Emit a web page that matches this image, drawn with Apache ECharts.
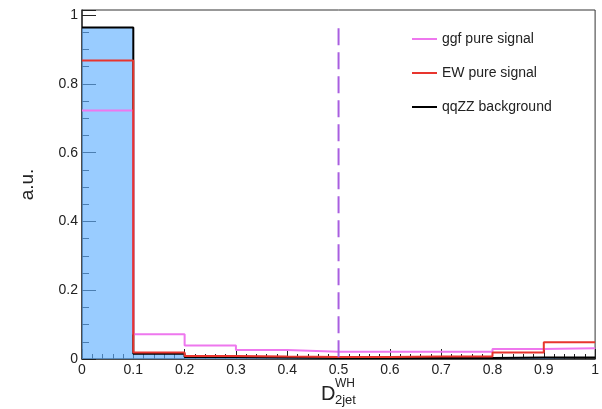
<!DOCTYPE html>
<html>
<head>
<meta charset="utf-8">
<title>D2jet WH discriminant</title>
<script src="https://cdn.jsdelivr.net/npm/echarts@6/dist/echarts.min.js"></script>
<style>
  html, body { margin: 0; padding: 0; background: #ffffff; }
  #chart { width: 602px; height: 409px; }
</style>
</head>
<body>
<div id="chart"></div>
<script>
// Bin edges of the D_2jet^WH distribution
const binEdges = [0, 0.1, 0.2, 0.3, 0.4, 0.5, 0.6, 0.7, 0.8, 0.9, 1.0];

// Normalised bin contents (a.u.)
const ggfSignal = [0.723, 0.072, 0.039, 0.026, 0.021, 0.021, 0.021, 0.021, 0.029, 0.031];
const ewSignal  = [0.868, 0.019, 0.009, 0.007, 0.006, 0.006, 0.007, 0.007, 0.019, 0.049];
const qqzzBkg   = [0.964, 0.015, 0.006, 0.004, 0.003, 0.003, 0.003, 0.003, 0.004, 0.004];

// Working-point cut on the discriminant
const cutValue = 0.5;
const cutHeight = 0.962;

const legendNames = ['ggf pure signal', 'EW pure signal', 'qqZZ background'];
const xTicks = [0, 0.1, 0.2, 0.3, 0.4, 0.5, 0.6, 0.7, 0.8, 0.9, 1];
const yTicks = [0, 0.2, 0.4, 0.6, 0.8, 1];

// Turn bin contents into step-line points (left edge of every bin + final right edge)
function histPoints(values) {
  const pts = values.map((v, i) => [binEdges[i], v]);
  pts.push([binEdges[binEdges.length - 1], values[values.length - 1]]);
  return pts;
}

const FONT = '"Liberation Sans", Arial, sans-serif';
const chart = echarts.init(document.getElementById('chart'), null, { renderer: 'canvas' });

chart.setOption({
  animation: false,
  backgroundColor: '#ffffff',
  grid: {
    left: 82, right: 5, top: 10, bottom: 50,
    show: true, borderColor: '#333', borderWidth: 1, backgroundColor: 'transparent'
  },
  legend: {
    orient: 'vertical',
    left: 407, top: 26,
    icon: 'rect',
    itemWidth: 25, itemHeight: 2,
    itemGap: 18,
    data: legendNames,
    textStyle: { fontFamily: FONT, fontSize: 14, color: '#222', lineHeight: 16 }
  },
  xAxis: {
    type: 'value',
    min: xTicks[0], max: xTicks[xTicks.length - 1], interval: 0.1,
    axisLine: { show: true, onZero: false, lineStyle: { color: '#333', width: 1.5 } },
    axisTick: { show: true, inside: true, length: 10, lineStyle: { color: '#222' } },
    minorTick: { show: true, splitNumber: 5, length: 5, lineStyle: { color: '#222' } },
    splitLine: { show: false },
    axisLabel: { margin: 4, fontFamily: FONT, fontSize: 14, color: '#222' }
  },
  yAxis: {
    type: 'value',
    min: yTicks[0], max: 1.015, interval: 0.2,
    name: 'a.u.', nameLocation: 'middle', nameGap: 45,
    nameTextStyle: { fontFamily: FONT, fontSize: 19, color: '#222' },
    axisLine: { show: true, onZero: false, lineStyle: { color: '#333', width: 1.5 } },
    axisTick: { show: true, inside: true, length: 14, lineStyle: { color: '#222' } },
    minorTick: { show: true, splitNumber: 4, length: 7, lineStyle: { color: '#222' } },
    splitLine: { show: false },
    axisLabel: { margin: 4, fontFamily: FONT, fontSize: 14, color: '#222', showMaxLabel: false }
  },
  series: [
    {
      // translucent fill: over white it gives a light blue, and the axis ticks beneath stay visible
      name: 'qqZZ background',
      type: 'line', step: 'end', showSymbol: false, symbol: 'none',
      data: histPoints(qqzzBkg),
      color: '#000000',
      lineStyle: { color: '#000000', width: 2 },
      areaStyle: { color: '#62b1ff', opacity: 0.65 },
      z: 2
    },
    {
      name: 'ggf pure signal',
      type: 'line', step: 'end', showSymbol: false, symbol: 'none',
      data: histPoints(ggfSignal),
      color: '#ee77ee',
      lineStyle: { color: '#ee77ee', width: 2 },
      z: 3
    },
    {
      name: 'EW pure signal',
      type: 'line', step: 'end', showSymbol: false, symbol: 'none',
      data: histPoints(ewSignal),
      color: '#e8352e',
      lineStyle: { color: '#e8352e', width: 2 },
      z: 4
    },
    {
      name: 'cut',
      type: 'line', showSymbol: false, symbol: 'none',
      data: [[cutValue, cutHeight], [cutValue, 0]],
      lineStyle: { color: '#a95fe0', width: 2, type: [17, 7] },
      z: 5
    }
  ],
  graphic: [
    { type: 'text', left: 321, top: 384, style: { text: 'D', font: '20px ' + FONT, fill: '#222' } },
    { type: 'text', left: 335, top: 378, style: { text: 'WH', font: '12px ' + FONT, fill: '#222' } },
    { type: 'text', left: 335, top: 394, style: { text: '2jet', font: '13px ' + FONT, fill: '#222' } }
  ]
});
</script>
</body>
</html>
